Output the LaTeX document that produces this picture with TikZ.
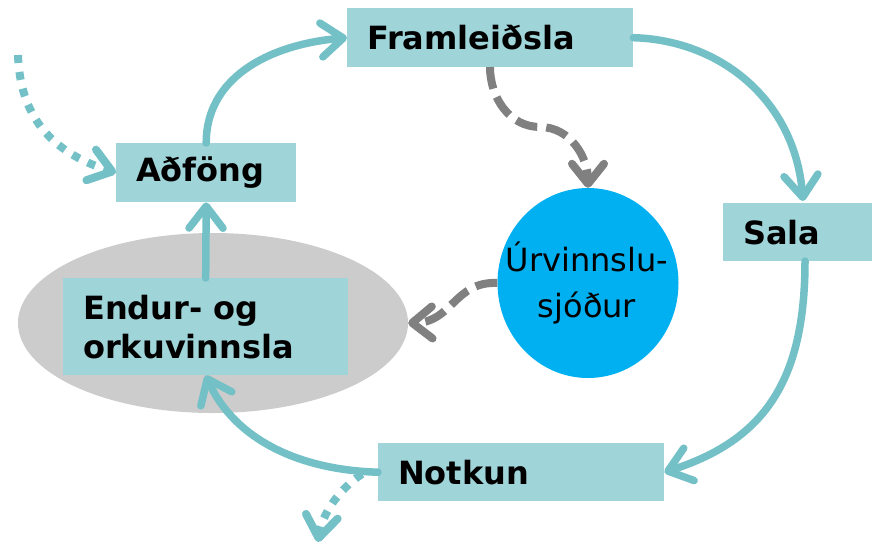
\documentclass[tikz,border=0pt]{standalone}
\usepackage{fontspec}
\setmainfont{DejaVu Sans}
\usetikzlibrary{arrows.meta,shapes.geometric}
\definecolor{boxc}{HTML}{9FD4D9}
\definecolor{tealc}{HTML}{73C1C7}
\definecolor{ellc}{HTML}{CCCCCC}
\definecolor{bluec}{HTML}{00B0F0}
\definecolor{grayc}{HTML}{808080}
\begin{document}
\begin{tikzpicture}[x=1pt,y=-1pt,
  box/.style={fill=boxc, rectangle, anchor=north west, inner xsep=20pt, inner ysep=0pt,
    align=left, font=\fontsize{32}{39}\selectfont\bfseries, text=black},
  flow/.style={draw=tealc, line width=7.5pt, line cap=round,
    -{Straight Barb[length=22pt,width=34pt,round]}},
  dotflow/.style={draw=tealc, line width=8pt, dash pattern=on 8pt off 9pt,
    -{Straight Barb[length=22pt,width=32pt,round]}},
  grayflow/.style={draw=grayc, line width=8pt, dash pattern=on 22pt off 9pt,
    -{Straight Barb[length=20pt,width=32pt,round]}}]
\useasboundingbox (0,0) rectangle (872,544);
\fill[white] (0,0) rectangle (872,544);

\node[ellipse, fill=ellc, minimum width=390pt, minimum height=180pt, inner sep=0pt] (ell) at (213,323) {};
\node[ellipse, fill=bluec, minimum width=181pt, minimum height=190pt, inner sep=0pt] (circ) at (588,283) {};
\node[align=center, font=\fontsize{32}{46}\selectfont, inner sep=0pt] (circt) at (587,283) {Úrvinnslu-\\sjóður};

\node[box, minimum height=59pt, text width=246pt] (fram) at (347,8) {Framleiðsla};
\node[box, minimum height=59pt, text width=140pt] (adf) at (116,143) {Aðföng};
\node[box, minimum height=58pt, text width=120pt] (sala) at (723,203) {Sala};
\node[box, minimum height=97pt, text width=245pt] (endur) at (63,278) {Endur- og\\orkuvinnsla};
\node[box, minimum height=58pt, text width=246pt] (notk) at (378,443) {Notkun};

\coordinate (dotA) at (18,55);
\coordinate (dotB0) at (362,474);
\coordinate (dotB) at (318,542);
\coordinate (salaS) at (805,261);
\coordinate (salaN) at (803,201);
\coordinate (framS) at (490,67);
\coordinate (grayM) at (540,127);

\draw[flow] (adf.north) .. controls (206,80) and (265,45) .. (fram.west);
\draw[flow] (fram.east) .. controls (720,40) and (795,100) .. (salaN);
\draw[flow] (salaS) .. controls (805,380) and (765,440) .. (notk.east);
\draw[flow] (notk.west) .. controls (300,470) and (235,440) .. (endur.south);
\draw[flow] (endur.north) -- (adf.south);

\draw[dotflow] (dotA) .. controls (20,115) and (50,152) .. (adf.west);
\draw[dotflow] (dotB0) .. controls (338,490) and (322,515) .. (dotB);

\draw[grayflow] (framS) to[out=-90,in=180] (grayM) to[out=0,in=90] (circ.north);
\draw[grayflow] (circ.west) .. controls (455,281) and (452,322) .. (ell.east);
\end{tikzpicture}
\end{document}
